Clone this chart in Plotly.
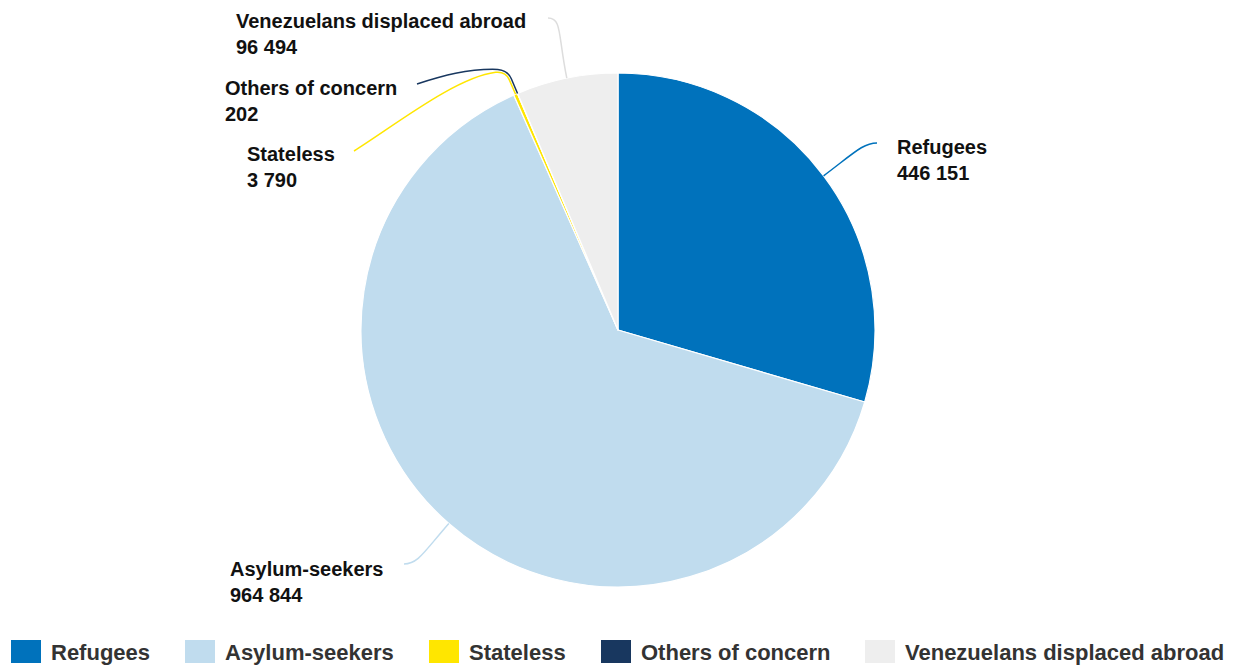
import math
import plotly.graph_objects as go

# ---- data ----
categories = ["Refugees", "Asylum-seekers", "Stateless", "Others of concern", "Venezuelans displaced abroad"]
values = [446151, 964844, 3790, 202, 96494]
colors = ["#0072BC", "#C0DCEE", "#FFE600", "#18375F", "#EEEEEE"]
line_colors = ["#0072BC", "#C0DCEE", "#FFE600", "#18375F", "#DDDDDD"]

# ---- layout constants (pixels) ----
W, H = 1238, 667
CX, CY, R = 618, 330, 257
FONT = "Liberation Sans, Arial, sans-serif"

# label anchors: (text left x, text middle y, connector end x, connector end y)
label_pos = {
    "Refugees": (895, 160, 877, 143),
    "Asylum-seekers": (228, 582, 404, 564),
    "Stateless": (245, 167, 354, 151),
    "Others of concern": (223, 101, 417, 84),
    "Venezuelans displaced abroad": (234, 34, 548, 18),
}
legend_text_x = [51, 225, 469, 641, 905]


def px(x, y):
    return x / W, 1 - y / H


def fmt(v):
    return f"{v:,}".replace(",", " ")


fig = go.Figure()
fig.add_trace(go.Pie(
    labels=categories, values=values, sort=False, direction="clockwise",
    marker=dict(colors=colors, line=dict(color="white", width=1.2)),
    textinfo="none", showlegend=False,
    domain=dict(x=[(CX - R) / W, (CX + R) / W], y=[1 - (CY + R) / H, 1 - (CY - R) / H]),
))

total = sum(values)
cum = 0
shapes = []
annotations = []
for i, (cat, v) in enumerate(zip(categories, values)):
    mid = (cum + v / 2) / total * 2 * math.pi
    cum += v
    dx, dy = math.sin(mid), -math.cos(mid)
    sx, sy = CX + R * dx, CY + R * dy
    tx, ty, ex, ey = label_pos[cat]
    if cat in ("Stateless", "Others of concern"):
        a1 = (sx + 16 * dx, sy + 16 * dy)
        a = (sx + 25 * dx, sy + 25 * dy)
        b = (a[0] - 10, a[1] - (1 if cat == "Others of concern" else -1))
        if cat == "Stateless":
            c1 = (b[0] - 40, b[1] + 5)
            c2 = (ex + 40, ey - 25)
        else:
            c1 = (b[0] - 30, b[1] - 1)
            c2 = (ex + 25, ey - 8)
        pts = [(sx, sy), a1, a, b, c1, c2, (ex, ey)]
        p = [px(*q) for q in pts]
        path = (f"M{p[0][0]},{p[0][1]} L{p[1][0]},{p[1][1]} Q{p[2][0]},{p[2][1]} {p[3][0]},{p[3][1]} "
                f"C{p[4][0]},{p[4][1]} {p[5][0]},{p[5][1]} {p[6][0]},{p[6][1]}")
    else:
        k = 38 if cat != "Venezuelans displaced abroad" else 45
        side = 1 if ex < sx else -1
        c1 = (sx + k * dx, sy + k * dy)
        c2 = (ex + side * 14, ey)
        p = [px(*q) for q in [(sx, sy), c1, c2, (ex, ey)]]
        path = f"M{p[0][0]},{p[0][1]} C{p[1][0]},{p[1][1]} {p[2][0]},{p[2][1]} {p[3][0]},{p[3][1]}"
    shapes.append(dict(type="path", path=path, xref="paper", yref="paper",
                       line=dict(color=line_colors[i], width=1.5)))
    ax, ay = px(tx, ty)
    annotations.append(dict(
        x=ax, y=ay, xref="paper", yref="paper", xanchor="left", yanchor="middle",
        align="left", showarrow=False,
        text=f"<b>{cat}</b><br><b>{fmt(v)}</b>",
        font=dict(family=FONT, size=20, color="#111111"),
    ))

# custom legend
for i, cat in enumerate(categories):
    x0 = legend_text_x[i] - 40
    x_0, y_0 = px(x0, 663)
    x_1, y_1 = px(x0 + 30, 640)
    shapes.append(dict(type="rect", xref="paper", yref="paper", x0=x_0, x1=x_1, y0=y_0, y1=y_1,
                       fillcolor=colors[i], line=dict(width=0)))
    lx, ly = px(legend_text_x[i] - 2, 652)
    annotations.append(dict(
        x=lx, y=ly, xref="paper", yref="paper", xanchor="left", yanchor="middle",
        showarrow=False, text=f"<b>{cat}</b>",
        font=dict(family=FONT, size=22, color="#333333"),
    ))

fig.update_layout(
    width=W, height=H, margin=dict(l=0, r=0, t=0, b=0),
    paper_bgcolor="white", plot_bgcolor="white",
    shapes=shapes, annotations=annotations, showlegend=False,
    font=dict(family=FONT),
)

fig.write_html("out.html")
